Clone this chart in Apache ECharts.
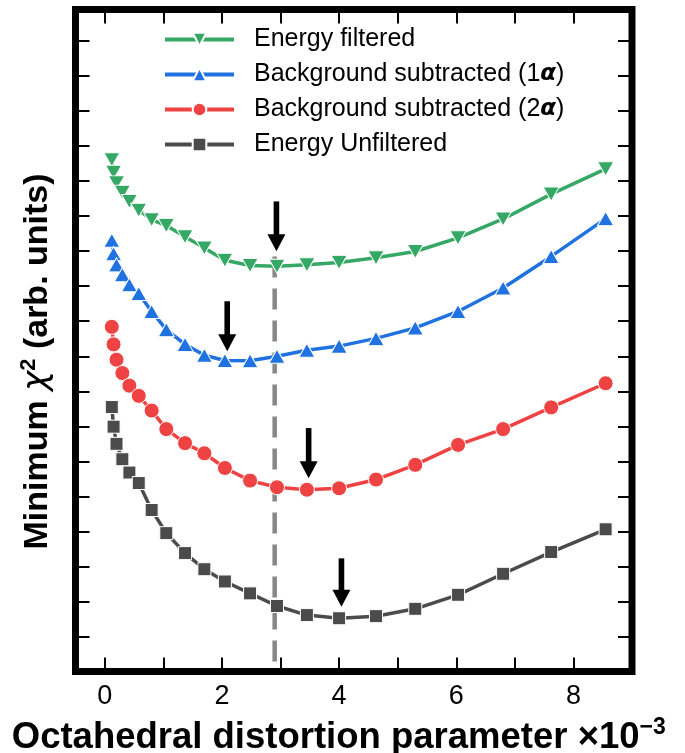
<!DOCTYPE html>
<html>
<head>
<meta charset="utf-8">
<script src="https://cdn.jsdelivr.net/npm/echarts@6/dist/echarts.min.js"></script>
<style>
  html, body { margin: 0; padding: 0; background: #ffffff; }
  #chart { width: 685px; height: 753px; }
</style>
</head>
<body>
<div id="chart"></div>
<script>
// Octahedral distortion parameter (x 10^-3) sampled for every fit
const distortion = [0.12, 0.15, 0.2, 0.3, 0.42, 0.58, 0.8, 1.05, 1.37, 1.7, 2.05, 2.48, 2.94, 3.45, 4.0, 4.63, 5.3, 6.03, 6.8, 7.62, 8.55];

// Minimum chi^2 (arbitrary units, curves offset vertically)
const energyFiltered = [14.61, 14.25, 13.95, 13.68, 13.42, 13.17, 12.9, 12.73, 12.41, 12.09, 11.74, 11.59, 11.57, 11.61, 11.68, 11.81, 11.99, 12.38, 12.92, 13.63, 14.35];
const bgSubtracted1a = [12.31, 11.93, 11.61, 11.33, 11.04, 10.79, 10.28, 9.76, 9.34, 9.03, 8.88, 8.87, 9.0, 9.17, 9.29, 9.51, 9.81, 10.28, 10.95, 11.85, 12.93];
const bgSubtracted2a = [9.84, 9.34, 8.9, 8.52, 8.16, 7.87, 7.45, 6.92, 6.52, 6.23, 5.81, 5.45, 5.26, 5.19, 5.23, 5.48, 5.9, 6.47, 6.92, 7.54, 8.23];
const energyUnfiltered = [7.55, 6.99, 6.5, 6.06, 5.68, 5.38, 4.61, 3.95, 3.38, 2.92, 2.57, 2.23, 1.87, 1.61, 1.52, 1.58, 1.79, 2.19, 2.79, 3.41, 4.06];

// Arrows marking each minimum: x, shaft top, arrow tip
const arrowX = [2.93, 2.09, 3.48, 4.04];
const arrowTop = [13.42, 10.57, 6.95, 3.23];
const arrowTip = [12.0, 9.14, 5.52, 1.85];

// Vertical dashed reference line
const refX = 2.9;
const refTop = 11.85;

// Axis ticks and labels
const xTicks = [0, 1, 2, 3, 4, 5, 6, 7, 8];
const xTickLabels = [0, 2, 4, 6, 8];

const seriesNames = [
  'Energy filtered',
  'Background subtracted (1α)',
  'Background subtracted (2α)',
  'Energy Unfiltered'
];
const seriesColors = ['#35a865', '#1f72e0', '#ef4242', '#4b4b4b'];

const FONT = '"Liberation Sans", Arial, Helvetica, sans-serif';

function pairs(ys) {
  return distortion.map((x, i) => [x, ys[i]]);
}

function curve(name, ys, color, symbol, size, rotate) {
  return {
    name: name,
    type: 'line',
    data: pairs(ys),
    symbol: symbol,
    symbolSize: size,
    symbolRotate: rotate || 0,
    showSymbol: true,
    z: 5,
    lineStyle: { color: color, width: 3.5 },
    itemStyle: { color: color, borderColor: '#ffffff', borderWidth: 1 },
    emphasis: { disabled: true },
    animation: false
  };
}

const chart = echarts.init(document.getElementById('chart'), null, { renderer: 'canvas' });

const tickStyle = { show: true, inside: true, length: 14, lineStyle: { color: '#000', width: 2 } };
const hiddenLine = { show: false, onZero: false };

const option = {
  animation: false,
  backgroundColor: '#ffffff',
  grid: {
    left: 75.5, right: 53, top: 9.5, bottom: 81.5,
    outerBoundsMode: 'none',
    containLabel: false,
    show: true, borderColor: '#000000', borderWidth: 7, backgroundColor: 'transparent'
  },
  legend: {
    data: seriesNames,
    orient: 'vertical',
    left: 158,
    top: 22,
    itemWidth: 69,
    itemHeight: 17,
    itemGap: 10,
    selectedMode: false,
    lineStyle: { width: 4 },
    textStyle: {
      fontFamily: FONT, fontSize: 25, color: '#000', padding: [0, 0, 0, 15],
      rich: {
        g: { fontFamily: '"DejaVu Sans", sans-serif', fontStyle: 'italic', fontWeight: 'bold', fontSize: 23, color: '#000' }
      }
    },
    formatter: function (name) {
      return name.replace('α', '{g|α}');
    }
  },
  xAxis: [
    {
      type: 'value', position: 'bottom', min: -0.5, max: 9,
      axisLine: hiddenLine,
      axisTick: Object.assign({ customValues: xTicks }, tickStyle),
      axisLabel: {
        customValues: xTickLabels, fontFamily: FONT, fontSize: 27, color: '#000', margin: 12,
        formatter: v => String(Math.round(v))
      },
      splitLine: { show: false },
      name: '{a|Octahedral distortion parameter ×10}{s|−3}',
      nameLocation: 'middle',
      nameGap: 45,
      nameTextStyle: {
        padding: [0, 30, 0, 0],
        rich: {
          a: { fontFamily: FONT, fontWeight: 'bold', fontSize: 36.5, color: '#000', lineHeight: 42 },
          s: { fontFamily: FONT, fontWeight: 'bold', fontSize: 23, color: '#000', lineHeight: 23, verticalAlign: 'top' }
        }
      }
    },
    {
      type: 'value', position: 'top', min: -0.5, max: 9,
      axisLine: hiddenLine,
      axisTick: Object.assign({ customValues: xTicks }, tickStyle),
      axisLabel: { show: false },
      splitLine: { show: false }
    }
  ],
  yAxis: [
    {
      type: 'value', position: 'left', min: 0, max: 18.9, interval: 1,
      axisLine: hiddenLine,
      axisTick: tickStyle,
      axisLabel: { show: false },
      splitLine: { show: false },
      name: '{a|Minimum }{c|χ}{s|2}{a| (arb. units)}',
      nameLocation: 'middle',
      nameRotate: 90,
      nameGap: 18,
      nameTextStyle: {
        padding: [0, 42, 0, 0],
        rich: {
          a: { fontFamily: FONT, fontWeight: 'bold', fontSize: 34, color: '#000', lineHeight: 40 },
          c: { fontFamily: '"DejaVu Sans", sans-serif', fontStyle: 'italic', fontSize: 34, color: '#000', lineHeight: 40 },
          s: { fontFamily: FONT, fontWeight: 'bold', fontSize: 22, color: '#000', lineHeight: 22, verticalAlign: 'top' }
        }
      }
    },
    {
      type: 'value', position: 'right', min: 0, max: 18.9, interval: 1,
      axisLine: hiddenLine,
      axisTick: tickStyle,
      axisLabel: { show: false },
      splitLine: { show: false }
    }
  ],
  series: [
    {
      name: 'reference',
      type: 'line',
      data: [[refX, refTop], [refX, 0]],
      symbol: 'none',
      z: 2,
      silent: true,
      lineStyle: { color: '#888888', width: 4.5, type: [21, 11] },
      animation: false
    },
    curve(seriesNames[0], energyFiltered, seriesColors[0], 'triangle', [16, 14], 180),
    curve(seriesNames[1], bgSubtracted1a, seriesColors[1], 'triangle', [16, 14], 0),
    curve(seriesNames[2], bgSubtracted2a, seriesColors[2], 'circle', 15, 0),
    curve(seriesNames[3], energyUnfiltered, seriesColors[3], 'rect', 13, 0),
    {
      name: 'minima',
      type: 'custom',
      z: 10,
      silent: true,
      data: arrowX.map((x, i) => [x, arrowTop[i], arrowTip[i]]),
      encode: { x: 0, y: [1, 2] },
      renderItem: function (params, api) {
        const top = api.coord([api.value(0), api.value(1)]);
        const tip = api.coord([api.value(0), api.value(2)]);
        const headLen = 17, headHalf = 9, shaftHalf = 2.8;
        return {
          type: 'group',
          children: [
            {
              type: 'rect',
              shape: { x: top[0] - shaftHalf, y: top[1], width: shaftHalf * 2, height: tip[1] - top[1] - headLen + 1 },
              style: { fill: '#000' }
            },
            {
              type: 'polygon',
              shape: { points: [[tip[0] - headHalf, tip[1] - headLen], [tip[0] + headHalf, tip[1] - headLen], [tip[0], tip[1]]] },
              style: { fill: '#000' }
            }
          ]
        };
      },
      animation: false
    }
  ]
};

chart.setOption(option);
</script>
</body>
</html>
